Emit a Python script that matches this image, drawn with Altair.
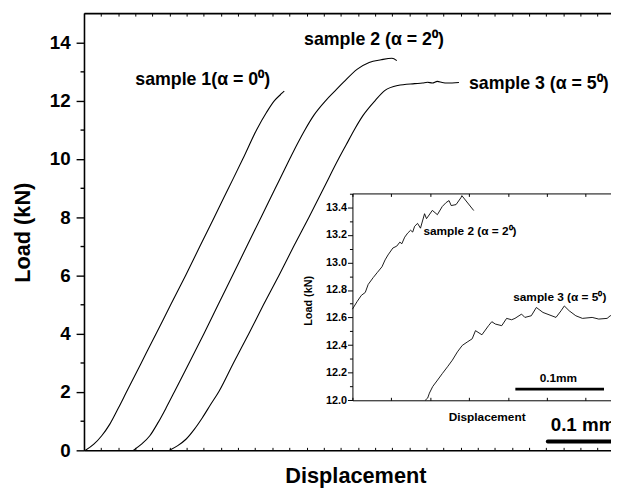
import altair as alt
import pandas as pd

FONT = "Liberation Sans"

# ---------------- main curves: displacement (mm), load (kN) ----------------
S1_X = [0.0017, 0.0115, 0.0207, 0.0300, 0.0403, 0.0496, 0.0669, 0.0842, 0.1014, 0.1187,
        0.1354, 0.1522, 0.1689, 0.1856, 0.2017, 0.2133, 0.2225, 0.2294, 0.2329, 0.2340]
S1_Y = [0, 0.21, 0.5, 0.89, 1.46, 2.0, 3.0, 4.0, 5.0, 6.0,
        7.0, 8.0, 9.0, 10.0, 11.0, 11.6, 12.0, 12.2, 12.3, 12.32]

S2_X = [0.0576, 0.0672, 0.0769, 0.0865, 0.0960, 0.1055, 0.1228, 0.1401, 0.1568, 0.1735,
        0.1902, 0.2069, 0.2236, 0.2404, 0.2490, 0.2582, 0.2686, 0.2824, 0.2939, 0.3032,
        0.3193, 0.3331, 0.3470, 0.3597, 0.3654]
S2_Y = [0, 0.21, 0.5, 0.95, 1.46, 2.0, 3.0, 4.0, 5.0, 6.0,
        7.0, 8.0, 9.0, 10.0, 10.5, 11.0, 11.5, 12.0, 12.35, 12.63,
        13.08, 13.31, 13.40, 13.45, 13.37]

S3_X = [0.0999, 0.1095, 0.1191, 0.1288, 0.1383, 0.1479, 0.1576, 0.1746, 0.1925, 0.2098,
        0.2277, 0.2450, 0.2628, 0.2801, 0.2974, 0.3066, 0.3158, 0.3262, 0.3401, 0.3516,
        0.3666, 0.3862, 0.3954, 0.4012, 0.4069, 0.4127, 0.4184, 0.4242, 0.4380]
S3_Y = [0, 0.16, 0.38, 0.72, 1.12, 1.57, 2.02, 3.0, 4.0, 5.0,
        6.0, 7.0, 8.0, 9.0, 10.0, 10.5, 11.0, 11.5, 12.0, 12.35,
        12.52, 12.58, 12.6, 12.63, 12.6, 12.66, 12.62, 12.6, 12.62]

# ---------------- inset (zoomed) curves ----------------
IN2_X = [0.3000, 0.3025, 0.3046, 0.3066, 0.3081, 0.3107, 0.3127, 0.3152, 0.3168, 0.3183,
         0.3208, 0.3228, 0.3244, 0.3254, 0.3269, 0.3284, 0.3299, 0.3310, 0.3320, 0.3335,
         0.3350, 0.3371, 0.3381, 0.3411, 0.3437, 0.3462, 0.3482, 0.3497, 0.3508, 0.3533,
         0.3558, 0.3563, 0.3624]
IN2_Y = [12.661, 12.718, 12.761, 12.782, 12.840, 12.890, 12.925, 12.968, 13.018, 13.054,
         13.104, 13.118, 13.147, 13.135, 13.183, 13.212, 13.233, 13.220, 13.262, 13.283,
         13.248, 13.353, 13.317, 13.377, 13.346, 13.405, 13.434, 13.448, 13.412, 13.419,
         13.469, 13.484, 13.376]

IN3_X = [0.3374, 0.3387, 0.3396, 0.3413, 0.3438, 0.3463, 0.3489, 0.3514, 0.3540, 0.3565,
         0.3590, 0.3616, 0.3633, 0.3666, 0.3700, 0.3717, 0.3735, 0.3768, 0.3793, 0.3819,
         0.3836, 0.3870, 0.3887, 0.3920, 0.3946, 0.3980, 0.4047, 0.4073, 0.4090, 0.4115,
         0.4149, 0.4183, 0.4233, 0.4267, 0.4310, 0.4326, 0.4345]
IN3_Y = [12.000, 12.016, 12.052, 12.100, 12.147, 12.195, 12.243, 12.291, 12.351, 12.398,
         12.422, 12.446, 12.505, 12.475, 12.541, 12.570, 12.553, 12.541, 12.594, 12.584,
         12.594, 12.625, 12.601, 12.613, 12.673, 12.637, 12.601, 12.649, 12.684, 12.649,
         12.613, 12.594, 12.601, 12.589, 12.594, 12.613, 12.618]

# ---------------- annotations ----------------
MAIN_LBL_TEXT = ["sample 1(\u03b1 = 0\u2070)", "sample 2 (\u03b1 = 2\u2070)", "sample 3 (\u03b1 = 5\u2070)"]
MAIN_LBL_X = [0.0599, 0.2571, 0.4496]
MAIN_LBL_Y = [12.52, 13.92, 12.38]

IN_LBL_TEXT = ["sample 2 (\u03b1 = 2\u2070)", "sample 3 (\u03b1 = 5\u2070)", "0.1mm"]
IN_LBL_X = [0.3365, 0.3827, 0.3963]
IN_LBL_Y = [13.198, 12.720, 12.131]

MAIN_BAR = {"x": [0.5418], "x2": [0.6456], "y": [0.305]}
MAIN_BAR_TEXT = {"x": [0.5452], "y": [0.667], "text": ["0.1 mm"]}
IN_BAR = {"x": [0.3838], "x2": [0.4294], "y": [12.081]}

# ticks
MAIN_Y_TICKS = list(range(0, 15))
MAIN_X_TICKS = [i / 50 for i in range(31)]
IN_Y_TICKS = [12.0, 12.1, 12.2, 12.3, 12.4, 12.5, 12.6, 12.7, 12.8, 12.9,
              13.0, 13.1, 13.2, 13.3, 13.4, 13.5]
IN_X_TICKS = [0.30, 0.32, 0.34, 0.36, 0.38, 0.40, 0.42]

W, H = 534, 443

main_df = pd.concat([
    pd.DataFrame({"x": S1_X, "y": S1_Y, "s": "1"}),
    pd.DataFrame({"x": S2_X, "y": S2_Y, "s": "2"}),
    pd.DataFrame({"x": S3_X, "y": S3_Y, "s": "3"}),
])
inset_df = pd.concat([
    pd.DataFrame({"x": IN2_X, "y": IN2_Y, "s": "2"}),
    pd.DataFrame({"x": IN3_X, "y": IN3_Y, "s": "3"}),
])

mx = alt.Scale(domain=[0, 0.6156], nice=False, zero=False)
my = alt.Scale(domain=[0, 15], nice=False, zero=False)
ix = alt.Scale(domain=[0.30, 0.4330], range=[272, 534], nice=False, zero=False)
iy = alt.Scale(domain=[12.0, 13.5], range=[392.3, 182.7], nice=False, zero=False)

common_axis = dict(grid=False, domainColor="black", tickColor="black",
                   labelColor="black", titleColor="black", labelFont=FONT, titleFont=FONT,
                   labelFontWeight="bold", titleFontWeight="bold")

EVEN_MAIN = "datum.value % 2 === 0"
EVEN_IN = "round(datum.value * 10) % 2 === 0"

# main x axis (bottom, ticks inside)
main_bottom = alt.Axis(orient="top", offset=-H, values=MAIN_X_TICKS, labels=False,
                       tickSize=3, tickWidth=1, domainWidth=1.6,
                       title="Displacement", titleFontSize=22, titleX=275, titleY=26,
                       titleAlign="center", titleBaseline="middle", **common_axis)
main_top = alt.Axis(orient="bottom", offset=-H, values=MAIN_X_TICKS, labels=False,
                    tickSize=3, tickWidth=1, domainWidth=1.6, title="", **common_axis)
main_left = alt.Axis(orient="left", values=MAIN_Y_TICKS,
                     tickSize={"condition": {"test": EVEN_MAIN, "value": 8}, "value": 4},
                     labelExpr=EVEN_MAIN + " ? datum.label : ''",
                     labelFontSize=19, labelPadding=6, labelOverlap=False,
                     tickWidth=1.4, domainWidth=1.6,
                     title="Load (kN)", titleFontSize=22, titleAngle=270,
                     titleX=-62, titleY=222, titleAlign="center", titleBaseline="middle",
                     **common_axis)

in_bottom = alt.Axis(orient="top", offset=-392.3, values=IN_X_TICKS, labels=False,
                     tickSize=3, tickWidth=1, domainWidth=1,
                     title="Displacement", titleFontSize=12, titleX=408, titleY=16,
                     titleAlign="center", titleBaseline="middle", **common_axis)
in_top = alt.Axis(orient="bottom", offset=-260.3, values=IN_X_TICKS, labels=False,
                  tickSize=3, tickWidth=1, domainWidth=1, title="", **common_axis)
in_left = alt.Axis(orient="left", offset=-272, values=IN_Y_TICKS, format=".1f",
                   tickSize={"condition": {"test": EVEN_IN, "value": 5}, "value": 3},
                   labelExpr=EVEN_IN + " ? datum.label : ''",
                   labelFontSize=11, labelPadding=1, labelOverlap=False,
                   tickWidth=1, domainWidth=1,
                   title="Load (kN)", titleFontSize=11, titleAngle=270,
                   titleX=-44, titleY=291, titleAlign="center", titleBaseline="middle",
                   **common_axis)

main_lines = alt.Chart(main_df).mark_line(
    color="black", strokeWidth=1.1, clip=True, interpolate="monotone"
).encode(
    x=alt.X("x:Q", scale=mx, axis=main_bottom),
    y=alt.Y("y:Q", scale=my, axis=main_left),
    detail="s:N",
)

main_text = alt.Chart(pd.DataFrame({"x": MAIN_LBL_X, "y": MAIN_LBL_Y, "t": MAIN_LBL_TEXT})).mark_text(
    font=FONT, fontWeight="bold", fontSize=18, align="left", baseline="alphabetic", color="black"
).encode(
    x=alt.X("x:Q", scale=mx, axis=main_top),
    y=alt.Y("y:Q", scale=my, axis=None),
    text="t:N",
)

main_bar = alt.Chart(pd.DataFrame(MAIN_BAR)).mark_rule(
    color="black", strokeWidth=4, strokeCap="round"
).encode(
    x=alt.X("x:Q", scale=mx, axis=None),
    x2="x2:Q",
    y=alt.Y("y:Q", scale=my, axis=None),
)

main_bar_text = alt.Chart(pd.DataFrame(MAIN_BAR_TEXT)).mark_text(
    font=FONT, fontWeight="bold", fontSize=19, align="left", baseline="alphabetic", color="black"
).encode(
    x=alt.X("x:Q", scale=mx, axis=None),
    y=alt.Y("y:Q", scale=my, axis=None),
    text="text:N",
)

inset_lines = alt.Chart(inset_df).mark_line(color="black", strokeWidth=0.9, clip=True).encode(
    x=alt.X("x:Q", scale=ix, axis=in_bottom),
    y=alt.Y("y:Q", scale=iy, axis=in_left),
    detail="s:N",
)

inset_text = alt.Chart(pd.DataFrame({"x": IN_LBL_X, "y": IN_LBL_Y, "t": IN_LBL_TEXT})).mark_text(
    font=FONT, fontWeight="bold", fontSize=12, align="left", baseline="alphabetic", color="black"
).encode(
    x=alt.X("x:Q", scale=ix, axis=in_top),
    y=alt.Y("y:Q", scale=iy, axis=None),
    text="t:N",
)

inset_bar = alt.Chart(pd.DataFrame(IN_BAR)).mark_rule(color="black", strokeWidth=3).encode(
    x=alt.X("x:Q", scale=ix, axis=None),
    x2="x2:Q",
    y=alt.Y("y:Q", scale=iy, axis=None),
)

chart = alt.layer(
    main_lines, main_text, main_bar, main_bar_text, inset_lines, inset_text, inset_bar
).resolve_scale(
    x="independent", y="independent"
).properties(
    width=W, height=H,
    autosize=alt.AutoSizeParams(type="none"),
    padding={"left": 77, "top": 2, "right": 0, "bottom": 37},
).configure_view(strokeWidth=0).configure(background="white")

chart.save("out.html", embed_options={"renderer": "svg", "actions": False})
